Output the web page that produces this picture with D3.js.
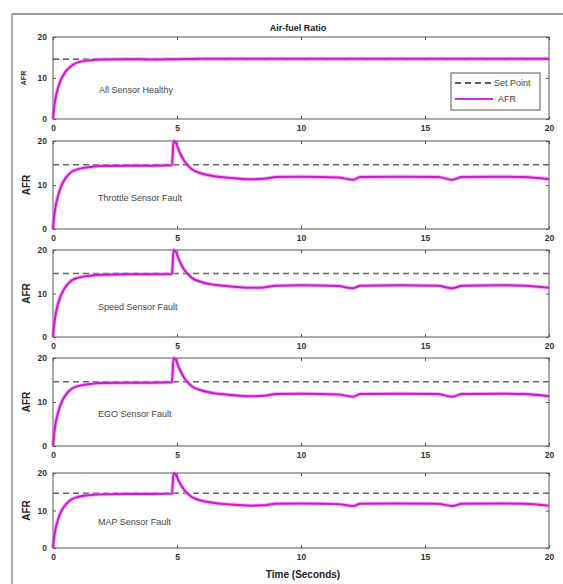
<!DOCTYPE html>
<html>
<head>
<meta charset="utf-8">
<script src="https://cdn.jsdelivr.net/npm/d3@7"></script>
<style>
  body { margin: 0; background: #fff; }
  svg { display: block; font-family: "Liberation Sans", Arial, sans-serif; }
  .tick text { font-weight: bold; font-size: 8.5px; fill: #333; }
  .label { font-size: 9px; fill: #444; }
</style>
</head>
<body>
<svg width="563" height="584"></svg>
<script>
// panel names
var panelNames = ["All Sensor Healthy", "Throttle Sensor Fault", "Speed Sensor Fault", "EGO Sensor Fault", "MAP Sensor Fault"];
var xTicks = [0, 5, 10, 15, 20];
var yTicks = [0, 10, 20];
var setPoint = 14.6;

// healthy run: time, AFR
var healthyT = [0, 0.05, 0.1, 0.2, 0.3, 0.5, 0.75, 1, 1.5, 2, 3, 4, 5, 6, 8, 10, 12, 14, 16, 18, 20];
var healthyV = [0, 3, 5, 7.5, 9.3, 11.5, 13.0, 13.8, 14.3, 14.5, 14.6, 14.5, 14.6, 14.7, 14.7, 14.7, 14.7, 14.7, 14.7, 14.7, 14.7];

// fault runs (all four look practically the same in the figure)
var faultT = [0, 0.05, 0.1, 0.2, 0.3, 0.5, 0.75, 1, 1.5, 2, 3, 4, 4.8, 4.86, 4.95, 5.1, 5.3, 5.6, 6, 6.5, 7, 8, 8.5, 9, 10, 11.5, 12.1, 12.4, 14, 15.5, 16.1, 16.5, 18, 19, 20];
var throttleV = [0, 3, 5, 7.5, 9.3, 11.5, 13.0, 13.6, 14.1, 14.3, 14.4, 14.4, 14.5, 20, 19.6, 17.5, 15.4, 13.6, 12.6, 12.0, 11.7, 11.3, 11.4, 11.8, 11.9, 11.7, 11.2, 11.8, 11.9, 11.8, 11.2, 11.8, 11.9, 11.8, 11.3];
var speedV    = [0, 3, 5, 7.5, 9.3, 11.5, 13.0, 13.6, 14.1, 14.3, 14.4, 14.4, 14.5, 20, 19.6, 17.5, 15.4, 13.6, 12.6, 12.0, 11.7, 11.3, 11.4, 11.8, 11.9, 11.7, 11.2, 11.8, 11.9, 11.8, 11.2, 11.8, 11.9, 11.8, 11.3];
var egoV      = [0, 3, 5, 7.5, 9.3, 11.5, 13.0, 13.6, 14.1, 14.3, 14.4, 14.4, 14.5, 20, 19.6, 17.5, 15.4, 13.6, 12.6, 12.0, 11.7, 11.3, 11.4, 11.8, 11.9, 11.7, 11.2, 11.8, 11.9, 11.8, 11.2, 11.8, 11.9, 11.8, 11.3];
var mapV      = [0, 3, 5, 7.5, 9.3, 11.5, 13.0, 13.6, 14.1, 14.3, 14.4, 14.4, 14.5, 20, 19.6, 17.5, 15.4, 13.6, 12.6, 12.0, 11.7, 11.3, 11.4, 11.8, 11.9, 11.7, 11.2, 11.8, 11.9, 11.8, 11.2, 11.8, 11.9, 11.8, 11.3];

var series = [
  { t: healthyT, v: healthyV },
  { t: faultT, v: throttleV },
  { t: faultT, v: speedV },
  { t: faultT, v: egoV },
  { t: faultT, v: mapV }
];

// panel boxes
var tops = [37, 141, 250, 358, 473];
var bottoms = [119, 229, 337, 446, 548];
var left = 53, right = 549;

var svg = d3.select("svg");

// outer frame of the scan
svg.append("line").attr("x1", 12).attr("x2", 563).attr("y1", 14).attr("y2", 14)
  .attr("stroke", "#999").attr("stroke-width", 2);
svg.append("line").attr("x1", 12).attr("x2", 12).attr("y1", 14).attr("y2", 584)
  .attr("stroke", "#aaa").attr("stroke-width", 2);

var x = d3.scaleLinear().domain([0, 20]).range([left, right]);

series.forEach(function(s, i) {
  var y = d3.scaleLinear().domain([0, 20]).range([bottoms[i], tops[i]]);
  var g = svg.append("g");
  var h = bottoms[i] - tops[i];

  g.append("rect").attr("x", left).attr("y", tops[i]).attr("width", right - left).attr("height", h)
    .attr("fill", "#fff").attr("stroke", "#555").attr("stroke-width", 1);

  // inward ticks on all four sides
  g.append("g").attr("transform", "translate(0," + bottoms[i] + ")")
    .call(d3.axisBottom(x).tickValues(xTicks).tickSizeInner(-3).tickSizeOuter(0).tickPadding(6))
    .call(function(a) { a.select(".domain").remove(); a.selectAll("line").attr("stroke", "#555"); });
  g.append("g").attr("transform", "translate(0," + tops[i] + ")")
    .call(d3.axisTop(x).tickValues(xTicks).tickSizeInner(-3).tickSizeOuter(0).tickFormat(""))
    .call(function(a) { a.select(".domain").remove(); a.selectAll("line").attr("stroke", "#555"); });
  g.append("g").attr("transform", "translate(" + left + ",0)")
    .call(d3.axisLeft(y).tickValues(yTicks).tickSizeInner(-3).tickSizeOuter(0).tickPadding(6))
    .call(function(a) { a.select(".domain").remove(); a.selectAll("line").attr("stroke", "#555"); });
  g.append("g").attr("transform", "translate(" + right + ",0)")
    .call(d3.axisRight(y).tickValues(yTicks).tickSizeInner(-3).tickSizeOuter(0).tickFormat(""))
    .call(function(a) { a.select(".domain").remove(); a.selectAll("line").attr("stroke", "#555"); });

  // set point
  g.append("line").attr("x1", x(0)).attr("x2", x(20)).attr("y1", y(setPoint)).attr("y2", y(setPoint))
    .attr("stroke", i == 0 ? "#333" : "#666").attr("stroke-width", 1.3).attr("stroke-dasharray", "6,4");

  var pts = s.t.map(function(t, k) { return [t, s.v[k]]; });
  var line = d3.line().x(function(d) { return x(d[0]); }).y(function(d) { return y(d[1]); })
    .curve(d3.curveMonotoneX);
  g.append("path").datum(pts).attr("d", line).attr("fill", "none")
    .attr("stroke", "#f07af0").attr("stroke-width", 4).attr("opacity", 0.6);
  g.append("path").datum(pts).attr("d", line).attr("fill", "none")
    .attr("stroke", "#c41cc8").attr("stroke-width", 2);

  g.append("text").attr("class", "label").attr("x", i == 0 ? 99 : 98)
    .attr("y", [93, 201, 310, 417, 525][i]).text(panelNames[i]);

  g.append("text").attr("transform", "translate(" + (i == 0 ? 26 : 30) + "," + ((tops[i] + bottoms[i]) / 2) + ") rotate(-90)")
    .attr("text-anchor", "middle").attr("font-weight", "bold")
    .attr("font-size", i == 0 ? 7 : 10).attr("fill", "#222").text("AFR");
});

// title
svg.append("text").attr("x", 298).attr("y", 31).attr("text-anchor", "middle")
  .attr("font-size", 9).attr("font-weight", "bold").attr("fill", "#222").text("Air-fuel Ratio");

// x axis title
svg.append("text").attr("x", 303).attr("y", 578).attr("text-anchor", "middle")
  .attr("font-size", 10).attr("font-weight", "bold").attr("fill", "#222").text("Time (Seconds)");

// legend
var lg = svg.append("g").attr("transform", "translate(451,73)");
lg.append("rect").attr("width", 89).attr("height", 37).attr("fill", "#fff").attr("stroke", "#555");
lg.append("line").attr("x1", 4).attr("x2", 42).attr("y1", 10).attr("y2", 10)
  .attr("stroke", "#222").attr("stroke-width", 1.5).attr("stroke-dasharray", "6,4");
lg.append("line").attr("x1", 4).attr("x2", 42).attr("y1", 26).attr("y2", 26)
  .attr("stroke", "#d62ad6").attr("stroke-width", 2);
lg.append("text").attr("x", 43).attr("y", 13).attr("font-size", 9).attr("fill", "#444").text("Set Point");
lg.append("text").attr("x", 47).attr("y", 29).attr("font-size", 9).attr("fill", "#444").text("AFR");
</script>
</body>
</html>
